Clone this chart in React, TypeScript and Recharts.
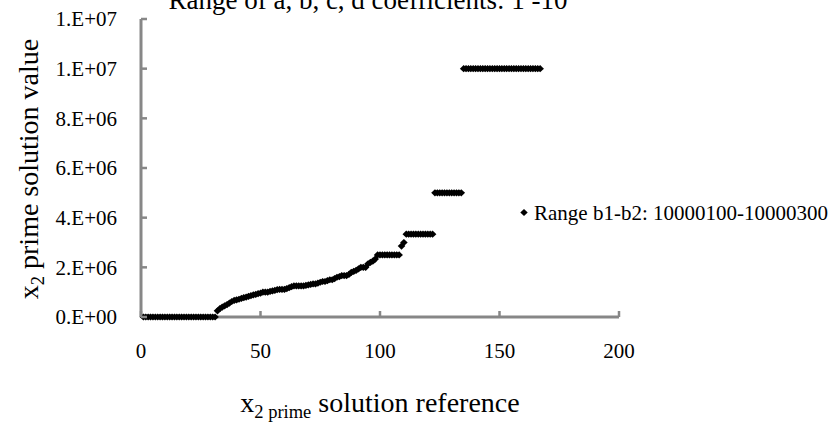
import React from 'react';
import { ScatterChart, Scatter, XAxis, YAxis, Legend, Label } from 'recharts';

const FONT = '"Liberation Serif", "Times New Roman", serif';
const AXIS = '#878787';

const chartTitle = 'Range of  a, b, c, d coefficients: 1 -10';
const seriesName = 'Range b1-b2: 10000100-10000300';
const xTitleMain = 'x';
const xTitleSub = '2 prime';
const xTitleRest = ' solution reference';
const yTitleMain = 'x';
const yTitleSub = '2';
const yTitleRest = ' prime solution value';

const xTicks = [0, 50, 100, 150, 200];
const xTickLabels = ['0', '50', '100', '150', '200'];
const yTicks = [0, 2000000, 4000000, 6000000, 8000000, 10000000, 12000000];
const yTickLabels = ['0.E+00', '2.E+06', '4.E+06', '6.E+06', '8.E+06', '1.E+07', '1.E+07'];

// x2 prime solution values, for solution references 1, 2, 3, ...
const solutionValues = [
  // 1-31
  0, 0, 0, 0, 0, 0, 0, 0, 0, 0,
  0, 0, 0, 0, 0, 0, 0, 0, 0, 0,
  0, 0, 0, 0, 0, 0, 0, 0, 0, 0,
  0,
  // 32-99
  250000, 333333, 400000, 450000, 500000, 560000, 625000, 666667, 690000, 714286,
  750000, 777778, 800000, 833333, 857143, 888889, 909091, 937500, 960000, 1000000,
  1000000, 1000000, 1030000, 1050000, 1071429, 1100000, 1111111, 1111111, 1111111, 1142857,
  1181818, 1222222, 1250000, 1250000, 1250000, 1250000, 1250000, 1270000, 1290000, 1310000,
  1333333, 1333333, 1363636, 1400000, 1428571, 1428571, 1461538, 1500000, 1500000, 1545455,
  1600000, 1625000, 1666667, 1666667, 1666667, 1714286, 1800000, 1833333, 1875000, 1937500,
  2000000, 2000000, 2000000, 2142857, 2200000, 2250000, 2333333, 2500000,
  // 100-108
  2500000, 2500000, 2500000, 2500000, 2500000, 2500000, 2500000, 2500000, 2500000,
  // 109-110
  2857143, 3000000,
  // 111-122
  3333333, 3333333, 3333333, 3333333, 3333333, 3333333, 3333333, 3333333, 3333333, 3333333,
  3333333, 3333333,
  // 123-134
  5000000, 5000000, 5000000, 5000000, 5000000, 5000000, 5000000, 5000000, 5000000, 5000000,
  5000000, 5000000,
  // 135-167
  10000000, 10000000, 10000000, 10000000, 10000000, 10000000, 10000000, 10000000, 10000000, 10000000,
  10000000, 10000000, 10000000, 10000000, 10000000, 10000000, 10000000, 10000000, 10000000, 10000000,
  10000000, 10000000, 10000000, 10000000, 10000000, 10000000, 10000000, 10000000, 10000000, 10000000,
  10000000, 10000000, 10000000,
];

const solutionRefs = solutionValues.map((_, i) => i + 1);
const data = solutionRefs.map((r, i) => ({ x: r, y: solutionValues[i] }));

const Diamond = (props: any) => {
  const { cx, cy } = props;
  if (cx == null || cy == null) return null;
  return (
    <polygon
      points={`${cx},${cy - 3.6} ${cx + 3.8},${cy} ${cx},${cy + 3.6} ${cx - 3.8},${cy}`}
      fill="#000"
    />
  );
};

const YTick = (props: any) => {
  const { x, y, payload } = props;
  const idx = yTicks.indexOf(payload.value);
  return (
    <g>
      <line x1={x} x2={x + 6} y1={y} y2={y} stroke={AXIS} strokeWidth={2.5} />
      <text x={x - 24} y={y} dy="0.35em" textAnchor="end" fontFamily={FONT} fontSize={21} fill="#000">
        {idx >= 0 ? yTickLabels[idx] : ''}
      </text>
    </g>
  );
};

const XTick = (props: any) => {
  const { x, y, payload } = props;
  const idx = xTicks.indexOf(payload.value);
  return (
    <g>
      <line x1={x} x2={x} y1={y} y2={y - 6} stroke={AXIS} strokeWidth={2.5} />
      <text x={x} y={y + 41} textAnchor="middle" fontFamily={FONT} fontSize={21} fill="#000">
        {idx >= 0 ? xTickLabels[idx] : ''}
      </text>
    </g>
  );
};

const XTitle = () => (
  <text x={380} y={412} textAnchor="middle" fontFamily={FONT} fontSize={28} fill="#000">
    {xTitleMain}
    <tspan fontSize={18.5} dy={6}>{xTitleSub}</tspan>
    <tspan fontSize={28} dy={-6}>{xTitleRest}</tspan>
  </text>
);

const YTitle = () => (
  <text
    transform="translate(38,169) rotate(-90)"
    x={0}
    y={0}
    textAnchor="middle"
    fontFamily={FONT}
    fontSize={28}
    fill="#000"
  >
    {yTitleMain}
    <tspan fontSize={18.5} dy={6}>{yTitleSub}</tspan>
    <tspan fontSize={28} dy={-6}>{yTitleRest}</tspan>
  </text>
);

const ChartTitle = () => (
  <text x={368} y={9} textAnchor="middle" fontFamily={FONT} fontSize={27} fill="#000">
    {chartTitle}
  </text>
);

const LegendContent = () => (
  <svg width={330} height={30} style={{ display: 'block', overflow: 'visible' }}>
    <polygon points="8,8.9 11.7,12.5 8,16.1 4.3,12.5" fill="#000" />
    <text x={18} y={20} fontFamily={FONT} fontSize={21} fill="#000">
      {seriesName}
    </text>
  </svg>
);

export default function App() {
  return (
    <div style={{ position: 'absolute', left: 0, top: 0, background: '#fff' }}>
      <ScatterChart
        width={834}
        height={424}
        margin={{ top: 19, right: 215, bottom: 47, left: 0 }}
      >
        <XAxis
          type="number"
          dataKey="x"
          domain={[0, 200]}
          ticks={xTicks}
          interval={0}
          height={60}
          tickSize={0}
          tickMargin={0}
          tick={<XTick />}
          axisLine={{ stroke: AXIS, strokeWidth: 3 }}
          tickLine={false}
        >
          <Label content={<XTitle />} />
        </XAxis>
        <YAxis
          type="number"
          dataKey="y"
          domain={[0, 12000000]}
          ticks={yTicks}
          interval={0}
          width={141}
          tickSize={0}
          tickMargin={0}
          tick={<YTick />}
          axisLine={{ stroke: AXIS, strokeWidth: 3 }}
          tickLine={false}
        >
          <Label content={<YTitle />} />
        </YAxis>
        <Legend
          layout="vertical"
          align="center"
          verticalAlign="middle"
          wrapperStyle={{ left: 516, top: 200, width: 330, height: 30 }}
          content={<LegendContent />}
        />
        <Scatter
          name={seriesName}
          data={data}
          fill="#000"
          shape={<Diamond />}
          isAnimationActive={false}
        />
        <Label content={<ChartTitle />} />
      </ScatterChart>
    </div>
  );
}
